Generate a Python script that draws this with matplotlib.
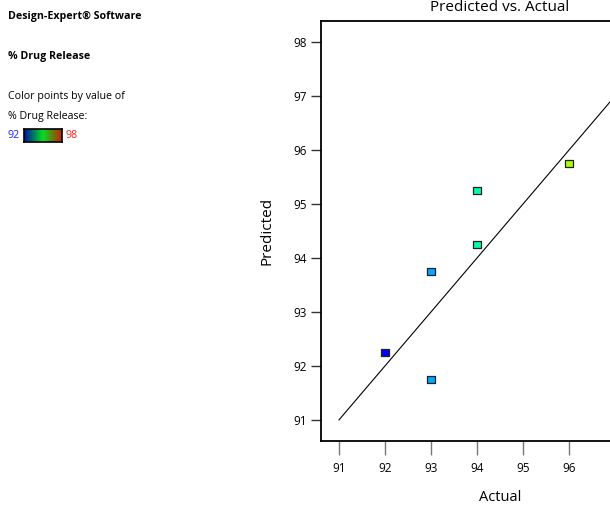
import numpy as np
import matplotlib
matplotlib.use("Agg")
import matplotlib.pyplot as plt
from matplotlib.colors import LinearSegmentedColormap

plt.rcParams['font.family'] = ['Open Sans', 'DejaVu Sans']

# data
actual = [92, 93, 93, 94, 94, 96]
predicted = [92.25, 93.75, 91.75, 95.25, 94.25, 95.75]
xticks = [91, 92, 93, 94, 95, 96]
yticks = [91, 92, 93, 94, 95, 96, 97, 98]
line_ends = [91, 98]
color_lo, color_hi = 92, 98

W, H = 610, 507
fig = plt.figure(figsize=(W / 100, H / 100), dpi=100)

# main axes, extends past the right edge like the original screenshot
ax = fig.add_axes([321 / W, 66 / H, 358 / W, 420 / H])
ax.set_xlim(90.61, 98.39)
ax.set_ylim(90.61, 98.39)

pt_cmap = LinearSegmentedColormap.from_list(
    'de', ['blue', 'cyan', 'lime', 'yellow', 'red'])
ax.plot(line_ends, line_ends, color='black', lw=0.8, zorder=2)
ax.scatter(actual, predicted, c=actual, cmap=pt_cmap, vmin=color_lo, vmax=color_hi,
           marker='s', s=32, edgecolors='#222222', linewidths=0.9, zorder=3)

ax.set_xticks(xticks)
ax.set_yticks(yticks)
ax.tick_params(axis='x', length=10, width=1, color='#777777', labelsize=8.5, pad=5)
ax.tick_params(axis='y', length=7, width=1, color='#333333', labelsize=8.5, pad=3)
for s in ax.spines.values():
    s.set_linewidth(1.3)
ax.set_xlabel('Actual', fontsize=10.5, labelpad=11)
ax.set_ylabel('Predicted', fontsize=11, labelpad=14)
ax.set_title('Predicted vs. Actual', fontsize=11, pad=7)

# left-hand info text
fs = 7.7
fig.text(8 / W, 1 - 16 / H, 'Design-Expert® Software', fontsize=fs, weight='bold', va='center')
fig.text(8 / W, 1 - 56 / H, '% Drug Release', fontsize=fs, weight='bold', va='center')
fig.text(8 / W, 1 - 96 / H, 'Color points by value of', fontsize=fs, va='center')
fig.text(8 / W, 1 - 116 / H, '% Drug Release:', fontsize=fs, va='center')
fig.text(8 / W, 1 - 135 / H, str(color_lo), fontsize=fs, va='center', color='#2020ff')
fig.text(66 / W, 1 - 135 / H, str(color_hi), fontsize=fs, va='center', color='#ff2020')

bar_cmap = LinearSegmentedColormap.from_list('bar', ['#0010a8', '#00e020', '#c82000'])
cax = fig.add_axes([24 / W, 1 - 142 / H, 38 / W, 13 / H])
cax.imshow(np.linspace(0, 1, 100)[None, :], cmap=bar_cmap, aspect='auto')
cax.set_xticks([])
cax.set_yticks([])
for s in cax.spines.values():
    s.set_linewidth(1.2)

fig.savefig('out.png', dpi=100)
